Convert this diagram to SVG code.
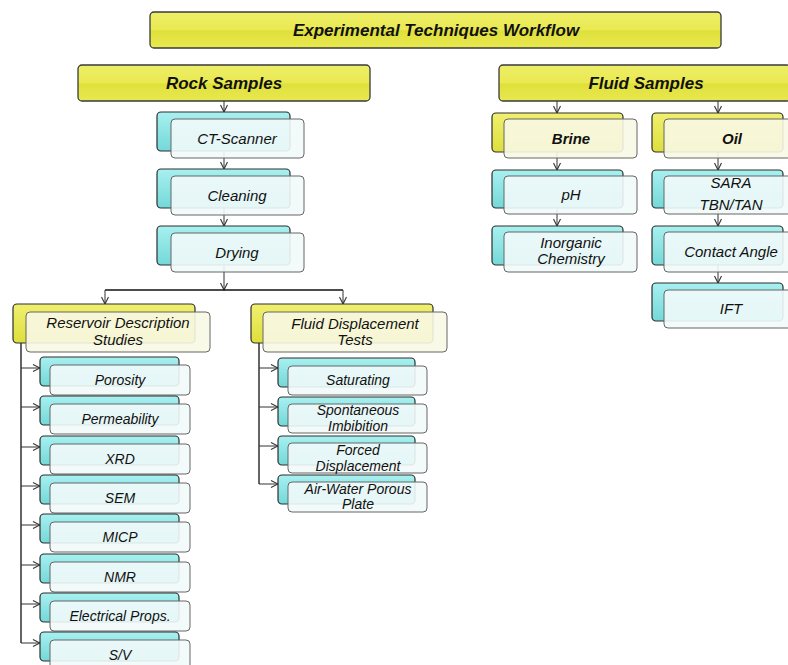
<svg xmlns="http://www.w3.org/2000/svg" width="788" height="665" viewBox="0 0 788 665">
<style>
.bc{fill:url(#cy);stroke:#2e2e2e;stroke-width:1.2}
.by{fill:url(#yl);stroke:#2e2e2e;stroke-width:1.2}
.fc{fill:#f2fafa;fill-opacity:.9;stroke:#666;stroke-width:1}
.fy{fill:#f8f8e6;fill-opacity:.9;stroke:#666;stroke-width:1}
.hd{fill:url(#yh);stroke:#3a3a3a;stroke-width:1.3}
text{font-family:"Liberation Sans",Arial,sans-serif;font-style:italic;fill:#111;text-anchor:middle}
.big{font-size:17px;font-weight:bold}
.m{font-size:15px}
.mb{font-size:15px;font-weight:bold}
.s{font-size:14px}
.cn{fill:none;stroke:#333;stroke-width:1;marker-end:url(#ah)}
.ln{fill:none;stroke:#111;stroke-width:1.3}
</style>
<defs>
<linearGradient id="cy" x1="0" y1="0" x2="0" y2="1"><stop offset="0" stop-color="#a8f0f0"/><stop offset="1" stop-color="#74d8d8"/></linearGradient>
<linearGradient id="yl" x1="0" y1="0" x2="0" y2="1"><stop offset="0" stop-color="#f0f070"/><stop offset="1" stop-color="#dede3c"/></linearGradient>
<linearGradient id="yh" x1="0" y1="0" x2="0" y2="1"><stop offset="0" stop-color="#eeee68"/><stop offset="0.5" stop-color="#e9e952"/><stop offset="0.52" stop-color="#e0e03a"/><stop offset="1" stop-color="#e8e852"/></linearGradient>
<marker id="ah" viewBox="0 0 10 10" markerWidth="10" markerHeight="10" refX="9" refY="5" orient="auto" markerUnits="userSpaceOnUse"><path d="M2,1.5 L9,5 L2,8.5" fill="none" stroke="#333" stroke-width="1.1"/></marker>
</defs>
<g id="connectors">
<path class="cn" d="M224,101 V112"/>
<path class="cn" d="M224,151 V169"/>
<path class="cn" d="M224,208 V226"/>
<path class="cn" d="M224,265 V290"/>
<path class="ln" d="M105,290 H343"/>
<path class="cn" d="M105,290 V304"/>
<path class="cn" d="M343,290 V304"/>
<path class="ln" d="M21,343 V643"/>
<path class="cn" d="M21,368 H40"/>
<path class="cn" d="M21,407 H40"/>
<path class="cn" d="M21,447 H40"/>
<path class="cn" d="M21,486 H40"/>
<path class="cn" d="M21,525 H40"/>
<path class="cn" d="M21,565 H40"/>
<path class="cn" d="M21,604 H40"/>
<path class="cn" d="M21,643 H40"/>
<path class="ln" d="M259,343 V484"/>
<path class="cn" d="M259,368 H278"/>
<path class="cn" d="M259,407 H278"/>
<path class="cn" d="M259,446 H278"/>
<path class="cn" d="M259,484 H278"/>
<path class="cn" d="M557,101 V113"/>
<path class="cn" d="M557,152 V170"/>
<path class="cn" d="M557,209 V226"/>
<path class="cn" d="M718,101 V113"/>
<path class="cn" d="M718,152 V170"/>
<path class="cn" d="M718,209 V226"/>
<path class="cn" d="M718,265 V283"/>
</g>
<g id="title"><rect class="hd" x="150" y="12" width="571" height="36" rx="4"/><text class="big" x="436" y="36">Experimental Techniques Workflow</text></g>
<g id="rock-samples"><rect class="hd" x="78" y="65" width="292" height="36" rx="4"/><text class="big" x="224" y="89">Rock Samples</text></g>
<g id="fluid-samples"><rect class="hd" x="499" y="65" width="292" height="36" rx="4"/><text class="big" x="646" y="89">Fluid Samples</text></g>

<g id="ct-scanner"><rect class="bc" x="157" y="112" width="133" height="39" rx="4"/><rect class="fc" x="171" y="119" width="133" height="39" rx="4"/><text class="m" x="237" y="144">CT-Scanner</text></g>
<g id="cleaning"><rect class="bc" x="157" y="169" width="133" height="39" rx="4"/><rect class="fc" x="171" y="176" width="133" height="39" rx="4"/><text class="m" x="237" y="201">Cleaning</text></g>
<g id="drying"><rect class="bc" x="157" y="226" width="133" height="39" rx="4"/><rect class="fc" x="171" y="233" width="133" height="39" rx="4"/><text class="m" x="237" y="258">Drying</text></g>

<g id="reservoir"><rect class="by" x="13" y="304" width="182" height="39" rx="4"/><rect class="fy" x="26" y="312" width="184" height="40" rx="4"/><text class="m" x="118" y="328">Reservoir Description</text><text class="m" x="118" y="345">Studies</text></g>
<g id="fluid-displacement"><rect class="by" x="251" y="304" width="182" height="39" rx="4"/><rect class="fy" x="263" y="312" width="184" height="40" rx="4"/><text class="m" x="355" y="329">Fluid Displacement</text><text class="m" x="355" y="345">Tests</text></g>

<g id="porosity"><rect class="bc" x="40" y="357" width="139" height="29" rx="4"/><rect class="fc" x="50" y="365" width="140" height="30" rx="4"/><text class="s" x="120" y="385">Porosity</text></g>
<g id="permeability"><rect class="bc" x="40" y="396" width="139" height="29" rx="4"/><rect class="fc" x="50" y="404" width="140" height="30" rx="4"/><text class="s" x="120" y="424">Permeability</text></g>
<g id="xrd"><rect class="bc" x="40" y="436" width="139" height="29" rx="4"/><rect class="fc" x="50" y="444" width="140" height="30" rx="4"/><text class="s" x="120" y="464">XRD</text></g>
<g id="sem"><rect class="bc" x="40" y="475" width="139" height="29" rx="4"/><rect class="fc" x="50" y="483" width="140" height="30" rx="4"/><text class="s" x="120" y="503">SEM</text></g>
<g id="micp"><rect class="bc" x="40" y="514" width="139" height="29" rx="4"/><rect class="fc" x="50" y="522" width="140" height="30" rx="4"/><text class="s" x="120" y="542">MICP</text></g>
<g id="nmr"><rect class="bc" x="40" y="554" width="139" height="29" rx="4"/><rect class="fc" x="50" y="562" width="140" height="30" rx="4"/><text class="s" x="120" y="582">NMR</text></g>
<g id="electrical"><rect class="bc" x="40" y="593" width="139" height="29" rx="4"/><rect class="fc" x="50" y="601" width="140" height="30" rx="4"/><text class="s" x="120" y="621">Electrical Props.</text></g>
<g id="sv"><rect class="bc" x="40" y="632" width="139" height="29" rx="4"/><rect class="fc" x="50" y="640" width="140" height="30" rx="4"/><text class="s" x="120" y="660">S/V</text></g>

<g id="saturating"><rect class="bc" x="278" y="358" width="137" height="29" rx="4"/><rect class="fc" x="288" y="366" width="139" height="29" rx="4"/><text class="s" x="358" y="385">Saturating</text></g>
<g id="spontaneous"><rect class="bc" x="278" y="397" width="137" height="29" rx="4"/><rect class="fc" x="288" y="404" width="139" height="29" rx="4"/><text class="s" x="358" y="415">Spontaneous</text><text class="s" x="358" y="431">Imbibition</text></g>
<g id="forced"><rect class="bc" x="278" y="436" width="137" height="29" rx="4"/><rect class="fc" x="288" y="443" width="139" height="30" rx="4"/><text class="s" x="358" y="455">Forced</text><text class="s" x="358" y="471">Displacement</text></g>
<g id="air-water"><rect class="bc" x="278" y="475" width="137" height="29" rx="4"/><rect class="fc" x="288" y="482" width="139" height="30" rx="4"/><text class="s" x="358" y="494">Air-Water Porous</text><text class="s" x="358" y="509">Plate</text></g>

<g id="brine"><rect class="by" x="492" y="113" width="131" height="39" rx="4"/><rect class="fy" x="504" y="119" width="133" height="39" rx="4"/><text class="mb" x="571" y="144">Brine</text></g>
<g id="ph"><rect class="bc" x="492" y="170" width="131" height="38" rx="4"/><rect class="fc" x="504" y="176" width="133" height="38" rx="4"/><text class="m" x="571" y="200">pH</text></g>
<g id="inorganic"><rect class="bc" x="492" y="226" width="131" height="39" rx="4"/><rect class="fc" x="504" y="232" width="133" height="40" rx="4"/><text class="m" x="571" y="248">Inorganic</text><text class="m" x="571" y="264">Chemistry</text></g>

<g id="oil"><rect class="by" x="652" y="113" width="131" height="39" rx="4"/><rect class="fy" x="664" y="119" width="133" height="39" rx="4"/><text class="mb" x="732" y="144">Oil</text></g>
<g id="sara"><rect class="bc" x="652" y="170" width="131" height="38" rx="4"/><rect class="fc" x="664" y="176" width="133" height="38" rx="4"/><text class="m" x="731" y="188">SARA</text><text class="m" x="731" y="210">TBN/TAN</text></g>
<g id="contact-angle"><rect class="bc" x="652" y="226" width="131" height="39" rx="4"/><rect class="fc" x="664" y="232" width="133" height="40" rx="4"/><text class="m" x="731" y="257">Contact Angle</text></g>
<g id="ift"><rect class="bc" x="652" y="283" width="131" height="38" rx="4"/><rect class="fc" x="664" y="290" width="133" height="38" rx="4"/><text class="m" x="731" y="314">IFT</text></g>
</svg>
